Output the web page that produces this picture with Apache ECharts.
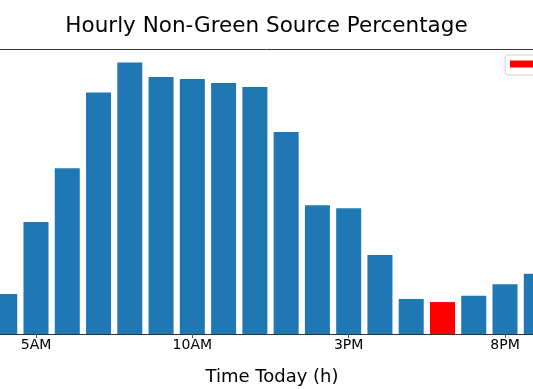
<!DOCTYPE html>
<html>
<head>
<meta charset="utf-8">
<script src="https://cdn.jsdelivr.net/npm/echarts@6/dist/echarts.min.js"></script>
<style>
html,body{margin:0;padding:0;background:#fff;}
#chart{width:533px;height:389px;}
</style>
</head>
<body>
<div id="chart"></div>
<script>
// Hours of day shown (partially cropped at the edges)
const hours = [4, 5, 6, 7, 8, 9, 10, 11, 12, 13, 14, 15, 16, 17, 18, 19, 20, 21];
// Non-green source percentage per hour
const values = [14.0, 39.3, 58.2, 84.7, 95.3, 90.2, 89.5, 88.1, 86.7, 70.9, 45.2, 44.1, 27.7, 12.3, 11.2, 13.4, 17.5, 21.1];
// Highlighted (current) hour
const currentHour = 18;
// Tick labels
const tickHours = [5, 10, 15, 20];
const tickLabels = ['5AM', '10AM', '3PM', '8PM'];

const normalData = [];
const currentData = [];
hours.forEach((h, i) => {
  if (h === currentHour) currentData.push([h, values[i]]);
  else normalData.push([h, values[i]]);
});

const xMin = 3.8486, xMax = 20.895;
const yMax = 100;

const chart = echarts.init(document.getElementById('chart'), null, {renderer: 'canvas'});
chart.setOption({
  animation: false,
  textStyle: {fontFamily: 'DejaVu Sans'},
  title: {
    text: 'Hourly Non-Green Source Percentage',
    left: 'center',
    top: 10.5,
    textStyle: {fontFamily: 'DejaVu Sans', fontSize: 21.5, fontWeight: 'normal', color: '#000'}
  },
  legend: {
    data: ['Current Hour'],
    left: 505,
    top: 55,
    icon: 'rect',
    itemWidth: 28,
    itemHeight: 7,
    padding: [3, 5, 5, 5],
    borderColor: '#d0d0d0',
    borderWidth: 1,
    borderRadius: 3,
    backgroundColor: '#fff',
    textStyle: {fontSize: 12, color: '#000', fontFamily: 'DejaVu Sans'}
  },
  grid: {left: 0, right: 0, top: 49, bottom: 55, containLabel: false, outerBoundsMode: 'none'},
  xAxis: [{
    type: 'value',
    min: xMin,
    max: xMax,
    name: 'Time Today (h)',
    nameLocation: 'middle',
    nameGap: 34,
    nameTextStyle: {fontSize: 18, color: '#000', fontFamily: 'DejaVu Sans', padding: [0, 0, 0, 11]},
    splitLine: {show: false},
    axisLine: {show: true, lineStyle: {color: '#333', width: 1}},
    axisTick: {show: true, length: 4, lineStyle: {color: '#555'}, customValues: tickHours},
    axisLabel: {
      show: true, margin: 4, fontSize: 14, color: '#000', fontFamily: 'DejaVu Sans',
      customValues: tickHours,
      formatter: v => tickLabels[tickHours.indexOf(Math.round(v))] || ''
    }
  }, {
    type: 'value',
    position: 'top',
    min: xMin,
    max: xMax,
    splitLine: {show: false},
    axisLine: {show: true, onZero: false, lineStyle: {color: '#333', width: 1}},
    axisTick: {show: false},
    axisLabel: {show: false}
  }],
  yAxis: {
    type: 'value',
    min: 0,
    max: yMax,
    show: false,
    splitLine: {show: false}
  },
  series: [{
    name: 'Hourly',
    type: 'bar',
    xAxisIndex: 0,
    data: normalData,
    barWidth: 25,
    barGap: '-100%',
    itemStyle: {color: '#1f77b4'}
  }, {
    name: 'Current Hour',
    type: 'bar',
    xAxisIndex: 0,
    data: currentData,
    barWidth: 25,
    barGap: '-100%',
    itemStyle: {color: '#ff0000'}
  }]
});
</script>
</body>
</html>
